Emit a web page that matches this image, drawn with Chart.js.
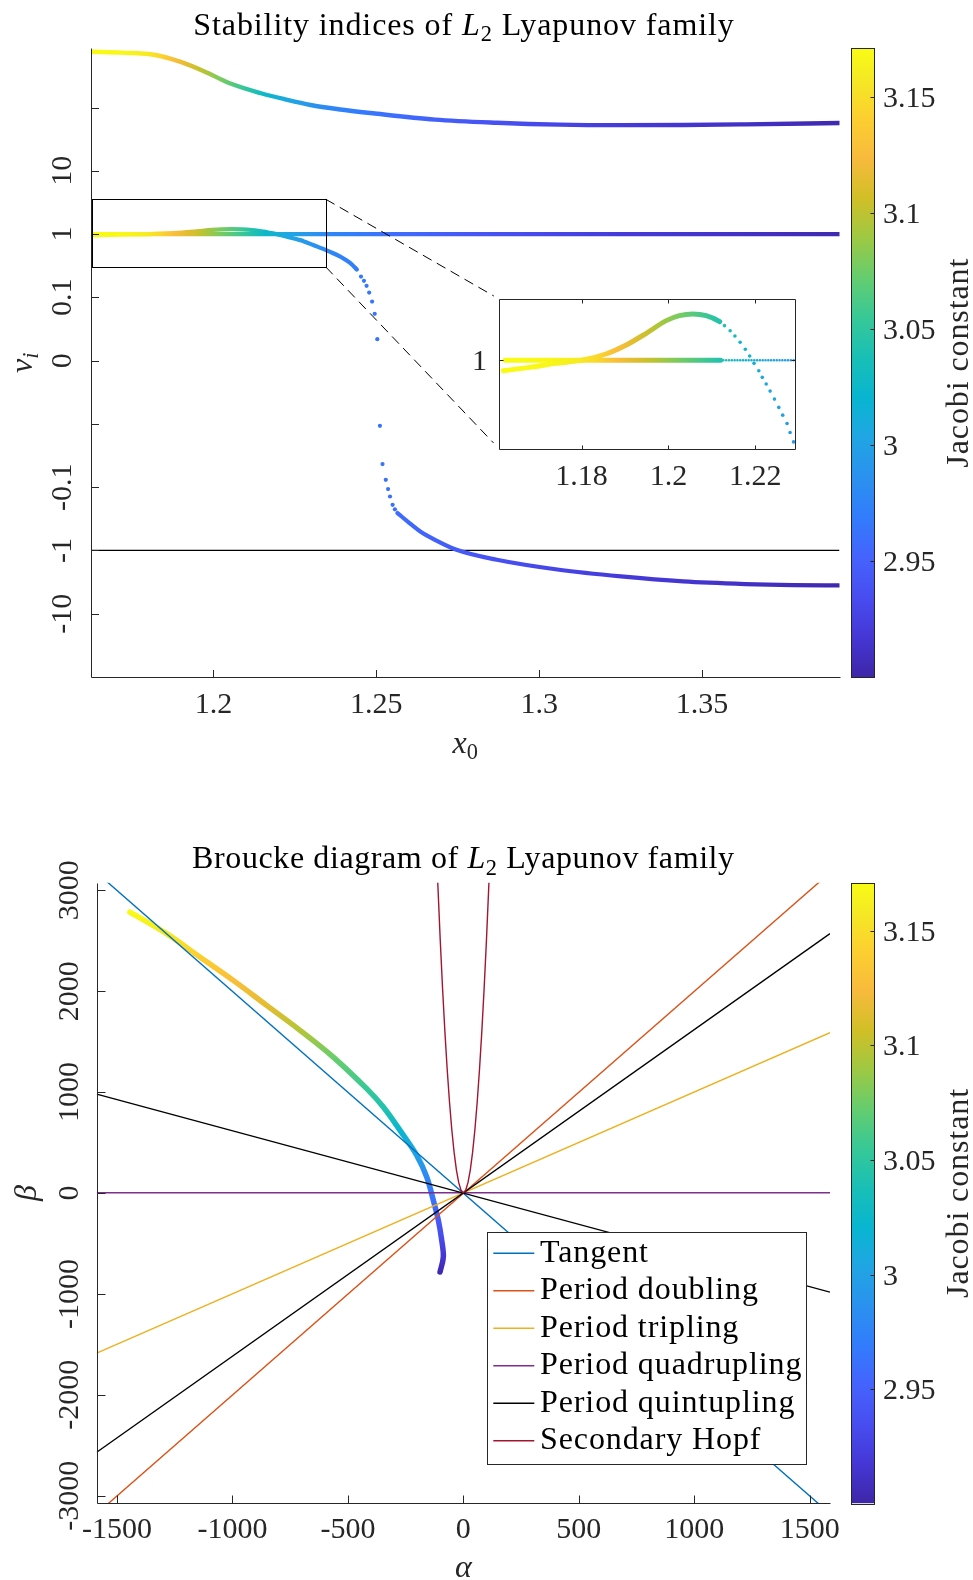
<!DOCTYPE html>
<html>
<head>
<meta charset="utf-8">
<title>Stability of the L2 Lyapunov family</title>
<script src="https://cdn.jsdelivr.net/npm/chart.js@4.4.1/dist/chart.umd.min.js"></script>
<style>
  html, body { margin: 0; padding: 0; background: #ffffff; }
  body { position: relative; width: 973px; height: 1580px; overflow: hidden; }
  canvas { position: absolute; }
</style>
</head>
<body>
<canvas id="top-main" width="850" height="780" style="left:0px;top:0px"></canvas>
<canvas id="top-inset" width="370" height="215" style="left:440px;top:285px"></canvas>
<canvas id="top-bar" width="128" height="780" style="left:845px;top:0px"></canvas>
<canvas id="bottom-main" width="850" height="790" style="left:0px;top:790px"></canvas>
<canvas id="bottom-bar" width="128" height="790" style="left:845px;top:790px"></canvas>
<script>
const FONT = '"Liberation Serif", "Times New Roman", serif';
const INK = '#262626';
const BLUE = '#0072bd';
const ORANGE = '#d95319';
const YELLOW = '#edb120';
const PURPLE = '#7e2f8e';
const BLACK = '#000000';
const CRIMSON = '#a2142f';

// ---------- top panel: stability indices against x0 ----------
// the index axis is piecewise: one axis unit between labelled ticks (0.1 -> 2, 1 -> 3, 10 -> 4 ...)
const nuTicks = [-3, -2, -1, 0, 1, 2, 3, 4, 5];
const nuTickLabels = ['-10', '-1', '-0.1', '', '0', '0.1', '1', '10', ''];
const x0Ticks = [1.2, 1.25, 1.3, 1.35];
const x0TickLabels = ['1.2', '1.25', '1.3', '1.35'];
const insetTicks = [1.18, 1.2, 1.22];
const insetTickLabels = ['1.18', '1.2', '1.22'];

// Jacobi constant along the family
const familyX0 = [1.1624, 1.1720, 1.1790, 1.1836, 1.1880, 1.1920, 1.1959, 1.2020, 1.2097, 1.2158,
  1.2235, 1.2300, 1.2358, 1.2450, 1.2570, 1.2820, 1.3060, 1.3250, 1.3600, 1.3922];
const familyJacobi = [3.171, 3.168, 3.160, 3.146, 3.127, 3.114, 3.102, 3.079, 3.052, 3.026,
  3.003, 2.990, 2.978, 2.968, 2.958, 2.940, 2.928, 2.920, 2.912, 2.903];

// large index
const x0Large = [1.1624, 1.1720, 1.1821, 1.1897, 1.1974, 1.2050, 1.2146, 1.2220, 1.2298, 1.2390,
  1.2489, 1.2680, 1.2870, 1.3061, 1.3251, 1.3442, 1.3632, 1.3922];
const nuLarge = [5.883, 5.868, 5.831, 5.725, 5.567, 5.384, 5.226, 5.130, 5.041, 4.970,
  4.910, 4.810, 4.760, 4.730, 4.722, 4.725, 4.735, 4.755];

// trivial index, nu = 1
const x0Unit = [1.1624, 1.2120, 1.3922];
const nuUnit = [3, 3, 3];

// second index, continuous parts (null = break where markers spread apart)
const x0Small = [1.1620, 1.1680, 1.1741, 1.1803, 1.1856, 1.1903, 1.1949, 1.1995, 1.2025, 1.2056,
  1.2087, 1.2118, 1.2129, 1.2142, 1.2153, 1.2165, 1.2177, 1.2187, 1.2197, 1.2208,
  1.2216, 1.2225, 1.2234, 1.2244, 1.2254, 1.2263, 1.2273, 1.2280, 1.2288, 1.2310,
  1.2335, 1.2360, 1.2385, 1.2405, 1.2425, 1.2440, 1.2500, 1.2565, 1.2600, 1.2635,
  1.2680, 1.2746, 1.2870, 1.3061, 1.3251, 1.3442, 1.3632, 1.3780, 1.3922];
const nuSmall = [2.9827, 2.9883, 2.9950, 3.0005, 3.0105, 3.0255, 3.0450, 3.0660, 3.0743, 3.0772,
  3.0743, 3.0643, 3.0577, 3.0493, 3.0405, 3.0300, 3.0183, 3.0072, 2.9950, 2.9827,
  2.9717, 2.9605, 2.9488, 2.9355, 2.9217, 2.9088, 2.8950, 2.8800, 2.8643, 2.820,
  2.770, 2.715, 2.655, 2.595, 2.520, 2.440, null, -1.409, -1.560, -1.700,
  -1.831, -1.989, -2.147, -2.305, -2.411, -2.490, -2.531, -2.548, -2.553];
// second index, isolated markers where it falls through zero
const x0SmallDots = [1.2453, 1.2462, 1.2470, 1.2478, 1.2487, 1.2495, 1.2503, 1.2511, 1.2519, 1.2529,
  1.2536, 1.2542, 1.2550, 1.2557];
const nuSmallDots = [2.329, 2.261, 2.182, 2.076, 1.934, 1.740, 1.340, -0.030, -0.635, -0.883,
  -1.030, -1.147, -1.278, -1.350];

const x0MinusOne = [1.1624, 1.3922];
const nuMinusOne = [-2, -2];
const zoomBoxX0 = [1.1628, 1.2345];
const zoomBoxNu = [2.48, 3.55];
const INSET_DOTS_FROM = 1.2118;

// ---------- bottom panel: Broucke diagram ----------
const alphaTicks = [-1500, -1000, -500, 0, 500, 1000, 1500];
const alphaTickLabels = ['-1500', '-1000', '-500', '0', '500', '1000', '1500'];
const betaTicks = [-3000, -2000, -1000, 0, 1000, 2000, 3000];
const betaTickLabels = ['-3000', '-2000', '-1000', '0', '1000', '2000', '3000'];

const brouckeAlpha = [-1444, -1285, -1141, -996.5, -851.8, -707.3, -563.3, -418.5, -346.6, -274.3,
  -201.9, -158.6, -130, -108.3, -93.6, -86.7, -101];
const brouckeBeta = [2784, 2570, 2338, 2107, 1859, 1612, 1347, 1034, 852, 621,
  373, 158, -72, -270, -469, -634, -783];
const brouckeJacobi = [3.170, 3.158, 3.140, 3.128, 3.115, 3.097, 3.074, 3.055, 3.043, 3.022,
  3.000, 2.980, 2.962, 2.945, 2.930, 2.916, 2.903];

const lineAlpha = [-1588, 1588];
const tangentBeta = [3174, -3178];
const doublingBeta = [-3178, 3174];
const triplingBeta = [-1587, 1589];
const quadruplingBeta = [2, 2];
const quintuplingBetaA = [979.8, -983.0];
const quintuplingBetaB = [-2568.8, 2570.0];
const hopfAlpha = [-112, -100, -90, -80, -70, -60, -50, -40, -30, -20, -10, 0,
  10, 20, 30, 40, 50, 60, 70, 80, 90, 100, 112];
const hopfBeta = [3138, 2502, 2027, 1602, 1227, 902, 627, 402, 227, 102, 27, 2,
  27, 102, 227, 402, 627, 902, 1227, 1602, 2027, 2502, 3138];

const legendLabels = ['Tangent', 'Period doubling', 'Period tripling', 'Period quadrupling',
  'Period quintupling', 'Secondary Hopf'];
const legendColors = [BLUE, ORANGE, YELLOW, PURPLE, BLACK, CRIMSON];

// ---------- colour bar ----------
const JACOBI_MIN = 2.9002;
const JACOBI_MAX = 3.1710;
const jacobiTicks = [2.95, 3, 3.05, 3.1, 3.15];
const jacobiTickLabels = ['2.95', '3', '3.05', '3.1', '3.15'];

// parula colormap, every 4th entry of the 64-colour table
const PARULA = [
  [62, 38, 168], [69, 55, 213], [72, 77, 240], [69, 99, 253], [50, 124, 252], [43, 145, 239],
  [32, 165, 227], [8, 181, 208], [25, 191, 182], [55, 200, 151], [100, 205, 111], [157, 201, 67],
  [209, 191, 39], [248, 186, 61], [252, 207, 48], [245, 233, 36], [249, 251, 21],
];
const PARULA_POS = [0, 4, 8, 12, 16, 20, 24, 28, 32, 36, 40, 44, 48, 52, 56, 60, 63].map((i) => i / 63);

// plot boxes in page pixels
const TOP_AREA = { left: 91, top: 48.4, right: 839.5, bottom: 677 };
const INSET_AREA = { left: 499, top: 299, right: 795.3, bottom: 448.7 };
const TOP_BAR_AREA = { left: 851, top: 48.4, right: 874, bottom: 677 };
const BOTTOM_AREA = { left: 96.7, top: 882.7, right: 830, bottom: 1503.3 };
const BOTTOM_BAR_AREA = { left: 851, top: 882.7, right: 874, bottom: 1503.3 };

function rgb(c) {
    return `rgb(${c[0]}, ${c[1]}, ${c[2]})`;
}

function parulaAt(value) {
    const t = Math.min(1, Math.max(0, (value - JACOBI_MIN) / (JACOBI_MAX - JACOBI_MIN)));
    let k = 1;
    while (k < PARULA_POS.length - 1 && PARULA_POS[k] < t) {
        k++;
    }
    const f = (t - PARULA_POS[k - 1]) / (PARULA_POS[k] - PARULA_POS[k - 1]);
    const a = PARULA[k - 1];
    const b = PARULA[k];
    return rgb(a.map((v, i) => Math.round(v + (b[i] - v) * f)));
}

function pts(xs, ys) {
    return xs.map((x, i) => ({ x, y: ys[i] }));
}

function crisp(v) {
    return Math.round(v) + 0.5;
}

function paddingFor(canvas, area) {
    const ox = canvas.offsetLeft;
    const oy = canvas.offsetTop;
    return {
        left: area.left - ox,
        top: area.top - oy,
        right: ox + canvas.width - area.right,
        bottom: oy + canvas.height - area.bottom,
    };
}

// colour along x0 for the top panel
function familyGradient(chart) {
    const { ctx, chartArea, scales } = chart;
    if (!chartArea || !scales.x) {
        return parulaAt(3);
    }
    const px = (v) => scales.x.getPixelForValue(v);
    const a = px(familyX0[0]);
    const b = px(familyX0[familyX0.length - 1]);
    const g = ctx.createLinearGradient(a, 0, b, 0);
    familyX0.forEach((v, i) => g.addColorStop((px(v) - a) / (b - a), parulaAt(familyJacobi[i])));
    return g;
}

// colour along beta for the Broucke curve (beta falls monotonically along it)
function brouckeGradient(chart) {
    const { ctx, chartArea, scales } = chart;
    if (!chartArea || !scales.y) {
        return parulaAt(3);
    }
    const py = (v) => scales.y.getPixelForValue(v);
    const a = py(brouckeBeta[0]);
    const b = py(brouckeBeta[brouckeBeta.length - 1]);
    const g = ctx.createLinearGradient(0, a, 0, b);
    brouckeBeta.forEach((v, i) => g.addColorStop((py(v) - a) / (b - a), parulaAt(brouckeJacobi[i])));
    return g;
}

function barGradient(chart) {
    const { ctx, chartArea: a } = chart;
    if (!a) {
        return rgb(PARULA[0]);
    }
    const g = ctx.createLinearGradient(0, a.bottom, 0, a.top);
    PARULA.forEach((c, i) => g.addColorStop(PARULA_POS[i], rgb(c)));
    return g;
}

// text runs: [text, style] with style '', 'i', 'sub' or 'isub'
function richText(ctx, parts, x, y, size, align = 'center', spacing = 0) {
    const runs = parts.map(([text, style]) => {
        const sub = style.includes('sub');
        const italic = style === 'i' || style === 'isub';
        const fs = sub ? size * 0.7 : size;
        return { text, font: `${italic ? 'italic ' : ''}${fs}px ${FONT}`, dy: sub ? size * 0.2 : 0 };
    });
    ctx.letterSpacing = `${spacing}px`;
    let total = 0;
    runs.forEach((r) => {
        ctx.font = r.font;
        r.w = ctx.measureText(r.text).width;
        total += r.w;
    });
    let cx = align === 'center' ? x - total / 2 : align === 'right' ? x - total : x;
    ctx.textAlign = 'left';
    ctx.textBaseline = 'alphabetic';
    runs.forEach((r) => {
        ctx.font = r.font;
        ctx.fillText(r.text, cx, y + r.dy);
        cx += r.w;
    });
    ctx.letterSpacing = '0px';
}

function rotatedText(ctx, parts, x, y, size, spacing = 0) {
    ctx.save();
    ctx.translate(x, y);
    ctx.rotate(-Math.PI / 2);
    richText(ctx, parts, 0, 0, size, 'center', spacing);
    ctx.restore();
}

// MATLAB-like axes: lines, inward ticks, tick labels
function axesPlugin(cfg) {
    return {
        id: 'matlabAxes',
        afterDatasetsDraw(chart) {
            const { ctx, chartArea: a, scales } = chart;
            const L = crisp(a.left);
            const R = crisp(a.right);
            const T = crisp(a.top);
            const B = crisp(a.bottom);
            ctx.save();
            ctx.strokeStyle = INK;
            ctx.lineWidth = 1;
            ctx.beginPath();
            if (cfg.box) {
                ctx.rect(L, T, R - L, B - T);
            } else {
                ctx.moveTo(L, T);
                ctx.lineTo(L, B);
                ctx.lineTo(R, B);
            }
            cfg.xTicks.forEach((v) => {
                const p = crisp(scales.x.getPixelForValue(v));
                ctx.moveTo(p, B);
                ctx.lineTo(p, B - cfg.tickLen);
                if (cfg.box) {
                    ctx.moveTo(p, T);
                    ctx.lineTo(p, T + cfg.tickLen);
                }
            });
            cfg.yTicks.forEach((v) => {
                const p = crisp(scales.y.getPixelForValue(v));
                ctx.moveTo(L, p);
                ctx.lineTo(L + cfg.tickLen, p);
                if (cfg.box) {
                    ctx.moveTo(R, p);
                    ctx.lineTo(R - cfg.tickLen, p);
                }
            });
            ctx.stroke();

            ctx.fillStyle = INK;
            ctx.font = `30px ${FONT}`;
            ctx.textBaseline = 'alphabetic';
            ctx.textAlign = 'center';
            cfg.xTicks.forEach((v, i) => {
                ctx.fillText(cfg.xLabels[i], scales.x.getPixelForValue(v), a.bottom + cfg.xGap);
            });
            cfg.yTicks.forEach((v, i) => {
                const p = scales.y.getPixelForValue(v);
                if (cfg.yRotate) {
                    ctx.save();
                    ctx.translate(a.left - cfg.yGap, p);
                    ctx.rotate(-Math.PI / 2);
                    ctx.textAlign = 'center';
                    ctx.fillText(cfg.yLabels[i], 0, 0);
                    ctx.restore();
                } else {
                    ctx.textAlign = 'right';
                    ctx.fillText(cfg.yLabels[i], a.left - cfg.yGap, p + 10);
                }
            });
            ctx.restore();
        },
    };
}

function connector(ctx, x1, y1, x2, y2, stopShort) {
    const len = Math.hypot(x2 - x1, y2 - y1);
    const k = (len - stopShort) / len;
    ctx.beginPath();
    ctx.moveTo(x1, y1);
    ctx.lineTo(x1 + (x2 - x1) * k, y1 + (y2 - y1) * k);
    ctx.stroke();
}

const topDecor = {
    id: 'topDecor',
    afterDatasetsDraw(chart) {
        const { ctx, scales: { x, y } } = chart;
        const l = x.getPixelForValue(zoomBoxX0[0]);
        const r = x.getPixelForValue(zoomBoxX0[1]);
        const t = y.getPixelForValue(zoomBoxNu[1]);
        const b = y.getPixelForValue(zoomBoxNu[0]);
        ctx.save();
        ctx.strokeStyle = BLACK;
        ctx.lineWidth = 1;
        ctx.strokeRect(crisp(l), crisp(t), Math.round(r - l), Math.round(b - t));
        ctx.setLineDash([10, 6]);
        connector(ctx, r, t, INSET_AREA.left, INSET_AREA.top, 6);
        connector(ctx, r, b, INSET_AREA.left, INSET_AREA.bottom, 8);
        ctx.restore();
    },
    afterDraw(chart) {
        const { ctx, chartArea: a } = chart;
        ctx.save();
        ctx.fillStyle = BLACK;
        richText(ctx, [['Stability indices of ', ''], ['L', 'i'], ['2', 'sub'], [' Lyapunov family', '']],
            464, 35, 32, 'center', 0.9);
        ctx.fillStyle = INK;
        richText(ctx, [['x', 'i'], ['0', 'sub']], (a.left + a.right) / 2, 753, 32);
        rotatedText(ctx, [['ν', 'i'], ['i', 'isub']], 32, (a.top + a.bottom) / 2, 32);
        ctx.restore();
    },
};

const insetBackground = {
    id: 'insetBackground',
    beforeDatasetsDraw(chart) {
        const { ctx, chartArea: a } = chart;
        ctx.save();
        ctx.fillStyle = '#ffffff';
        ctx.fillRect(a.left, a.top, a.right - a.left, a.bottom - a.top);
        ctx.restore();
    },
};

const bottomDecor = {
    id: 'bottomDecor',
    afterDraw(chart) {
        const { ctx, chartArea: a } = chart;
        const oy = chart.canvas.offsetTop;
        ctx.save();
        ctx.fillStyle = BLACK;
        richText(ctx, [['Broucke diagram of ', ''], ['L', 'i'], ['2', 'sub'], [' Lyapunov family', '']],
            463.4, 868.3 - oy, 32, 'center', 0.6);
        ctx.fillStyle = INK;
        richText(ctx, [['α', 'i']], (a.left + a.right) / 2, 1577 - oy, 32);
        rotatedText(ctx, [['β', 'i']], 36, (a.top + a.bottom) / 2, 32);

        // legend
        const box = { left: 487, top: 1232.3 - oy, right: 806, bottom: 1464.3 - oy };
        ctx.fillStyle = '#ffffff';
        ctx.fillRect(box.left, box.top, box.right - box.left, box.bottom - box.top);
        ctx.strokeStyle = INK;
        ctx.lineWidth = 1;
        ctx.strokeRect(crisp(box.left), crisp(box.top), Math.round(box.right - box.left), Math.round(box.bottom - box.top));
        legendLabels.forEach((label, i) => {
            const cy = 1253.3 - oy + 37.5 * i;
            ctx.strokeStyle = legendColors[i];
            ctx.lineWidth = 1.5;
            ctx.beginPath();
            ctx.moveTo(493.3, cy);
            ctx.lineTo(534.3, cy);
            ctx.stroke();
            ctx.fillStyle = BLACK;
            richText(ctx, [[label, '']], 540, cy + 8.4, 32, 'left', 0.9);
        });
        ctx.restore();
    },
};

function colorBarPlugin() {
    return {
        id: 'colorBar',
        afterDatasetsDraw(chart) {
            const { ctx, chartArea: a, scales: { y } } = chart;
            ctx.save();
            ctx.strokeStyle = INK;
            ctx.lineWidth = 1;
            ctx.strokeRect(crisp(a.left), crisp(a.top), Math.round(a.right - a.left), Math.round(a.bottom - a.top));
            ctx.beginPath();
            jacobiTicks.forEach((v) => {
                const p = crisp(y.getPixelForValue(v));
                ctx.moveTo(crisp(a.right), p);
                ctx.lineTo(crisp(a.right) - 4, p);
            });
            ctx.stroke();
            ctx.fillStyle = INK;
            ctx.font = `30px ${FONT}`;
            ctx.textAlign = 'left';
            ctx.textBaseline = 'alphabetic';
            jacobiTicks.forEach((v, i) => {
                ctx.fillText(jacobiTickLabels[i], 883 - chart.canvas.offsetLeft, y.getPixelForValue(v) + 10);
            });
            rotatedText(ctx, [['Jacobi constant', '']], 968 - chart.canvas.offsetLeft, (a.top + a.bottom) / 2, 32, 0.9);
            ctx.restore();
        },
    };
}

function baseOptions(canvas, area, xRange, yRange) {
    return {
        responsive: false,
        animation: false,
        events: [],
        layout: { padding: paddingFor(canvas, area) },
        plugins: { legend: { display: false }, tooltip: { enabled: false } },
        scales: {
            x: { type: 'linear', display: false, min: xRange[0], max: xRange[1] },
            y: { type: 'linear', display: false, min: yRange[0], max: yRange[1] },
        },
    };
}

function lineSet(xs, ys, extra = {}) {
    return {
        data: pts(xs, ys),
        pointRadius: 0,
        borderWidth: 1.4,
        fill: false,
        tension: 0,
        ...extra,
    };
}

const familyStroke = (ctx) => familyGradient(ctx.chart);
const thick = (width) => ({
    borderColor: familyStroke,
    borderWidth: width,
    borderCapStyle: 'round',
    borderJoinStyle: 'round',
    cubicInterpolationMode: 'monotone',
});

// ---------- top panel ----------
const topCanvas = document.getElementById('top-main');
new Chart(topCanvas, {
    type: 'line',
    data: {
        datasets: [
            lineSet(x0SmallDots, nuSmallDots, {
                showLine: false, pointRadius: 2.1, pointBorderWidth: 0, pointBackgroundColor: familyStroke,
            }),
            lineSet(x0Small, nuSmall, thick(4.2)),
            lineSet(x0Unit, nuUnit, thick(4.2)),
            lineSet(x0Large, nuLarge, thick(4.4)),
            lineSet(x0MinusOne, nuMinusOne, { borderColor: BLACK, borderWidth: 1.3 }),
        ],
    },
    options: baseOptions(topCanvas, TOP_AREA, [1.1624, 1.3922], [-4, 5.935]),
    plugins: [axesPlugin({
        box: false, tickLen: 7.5,
        xTicks: x0Ticks, xLabels: x0TickLabels, xGap: 36.3,
        yTicks: nuTicks, yLabels: nuTickLabels, yGap: 20.3, yRotate: true,
    }), topDecor],
});

// ---------- inset ----------
const insetCanvas = document.getElementById('top-inset');
const afterDots = (ctx) => ctx.p0.parsed.x >= INSET_DOTS_FROM;
new Chart(insetCanvas, {
    type: 'line',
    data: {
        datasets: [
            lineSet(x0Small, nuSmall, {
                ...thick(5),
                clip: 0,
                pointRadius: (ctx) => (ctx.raw && ctx.raw.x > INSET_DOTS_FROM ? 1.8 : 0),
                pointBorderWidth: 0,
                pointBackgroundColor: familyStroke,
                segment: { borderColor: (ctx) => (afterDots(ctx) ? 'rgba(0,0,0,0)' : undefined) },
            }),
            lineSet(x0Unit, nuUnit, {
                ...thick(5),
                clip: 0,
                segment: {
                    borderDash: (ctx) => (afterDots(ctx) ? [0.01, 2.8] : undefined),
                    borderWidth: (ctx) => (afterDots(ctx) ? 2.6 : undefined),
                },
            }),
            lineSet(x0Large, nuLarge, { ...thick(5), clip: 0 }),
        ],
    },
    options: baseOptions(insetCanvas, INSET_AREA, [1.161, 1.2292], [2.853, 3.102]),
    plugins: [insetBackground, axesPlugin({
        box: true, tickLen: 4,
        xTicks: insetTicks, xLabels: insetTickLabels, xGap: 36.3,
        yTicks: [3], yLabels: ['1'], yGap: 12, yRotate: false,
    })],
});

// ---------- colour bars ----------
function mountColorBar(id, area) {
    const canvas = document.getElementById(id);
    const options = baseOptions(canvas, area, [0, 1], [JACOBI_MIN, JACOBI_MAX]);
    options.scales.x = { type: 'category', display: false };
    return new Chart(canvas, {
        type: 'bar',
        data: {
            labels: ['Jacobi constant'],
            datasets: [{
                data: [[JACOBI_MIN, JACOBI_MAX]],
                backgroundColor: (ctx) => barGradient(ctx.chart),
                barPercentage: 1,
                categoryPercentage: 1,
                borderWidth: 0,
            }],
        },
        options,
        plugins: [colorBarPlugin()],
    });
}
mountColorBar('top-bar', TOP_BAR_AREA);
mountColorBar('bottom-bar', BOTTOM_BAR_AREA);

// ---------- Broucke diagram ----------
const bottomCanvas = document.getElementById('bottom-main');
new Chart(bottomCanvas, {
    type: 'line',
    data: {
        datasets: [
            lineSet(hopfAlpha, hopfBeta, { borderColor: CRIMSON }),
            lineSet(lineAlpha, quintuplingBetaB, { borderColor: BLACK }),
            lineSet(lineAlpha, quintuplingBetaA, { borderColor: BLACK }),
            lineSet(lineAlpha, quadruplingBeta, { borderColor: PURPLE }),
            lineSet(lineAlpha, triplingBeta, { borderColor: YELLOW }),
            lineSet(lineAlpha, doublingBeta, { borderColor: ORANGE }),
            lineSet(lineAlpha, tangentBeta, { borderColor: BLUE }),
            lineSet(brouckeAlpha, brouckeBeta, {
                borderColor: (ctx) => brouckeGradient(ctx.chart),
                borderWidth: 5.5,
                borderCapStyle: 'round',
                borderJoinStyle: 'round',
                tension: 0.35,
            }),
        ],
    },
    options: baseOptions(bottomCanvas, BOTTOM_AREA, [-1588, 1588], [-3075, 3075]),
    plugins: [axesPlugin({
        box: false, tickLen: 8,
        xTicks: alphaTicks, xLabels: alphaTickLabels, xGap: 35,
        yTicks: betaTicks, yLabels: betaTickLabels, yGap: 18.4, yRotate: true,
    }), bottomDecor],
});
</script>
</body>
</html>
